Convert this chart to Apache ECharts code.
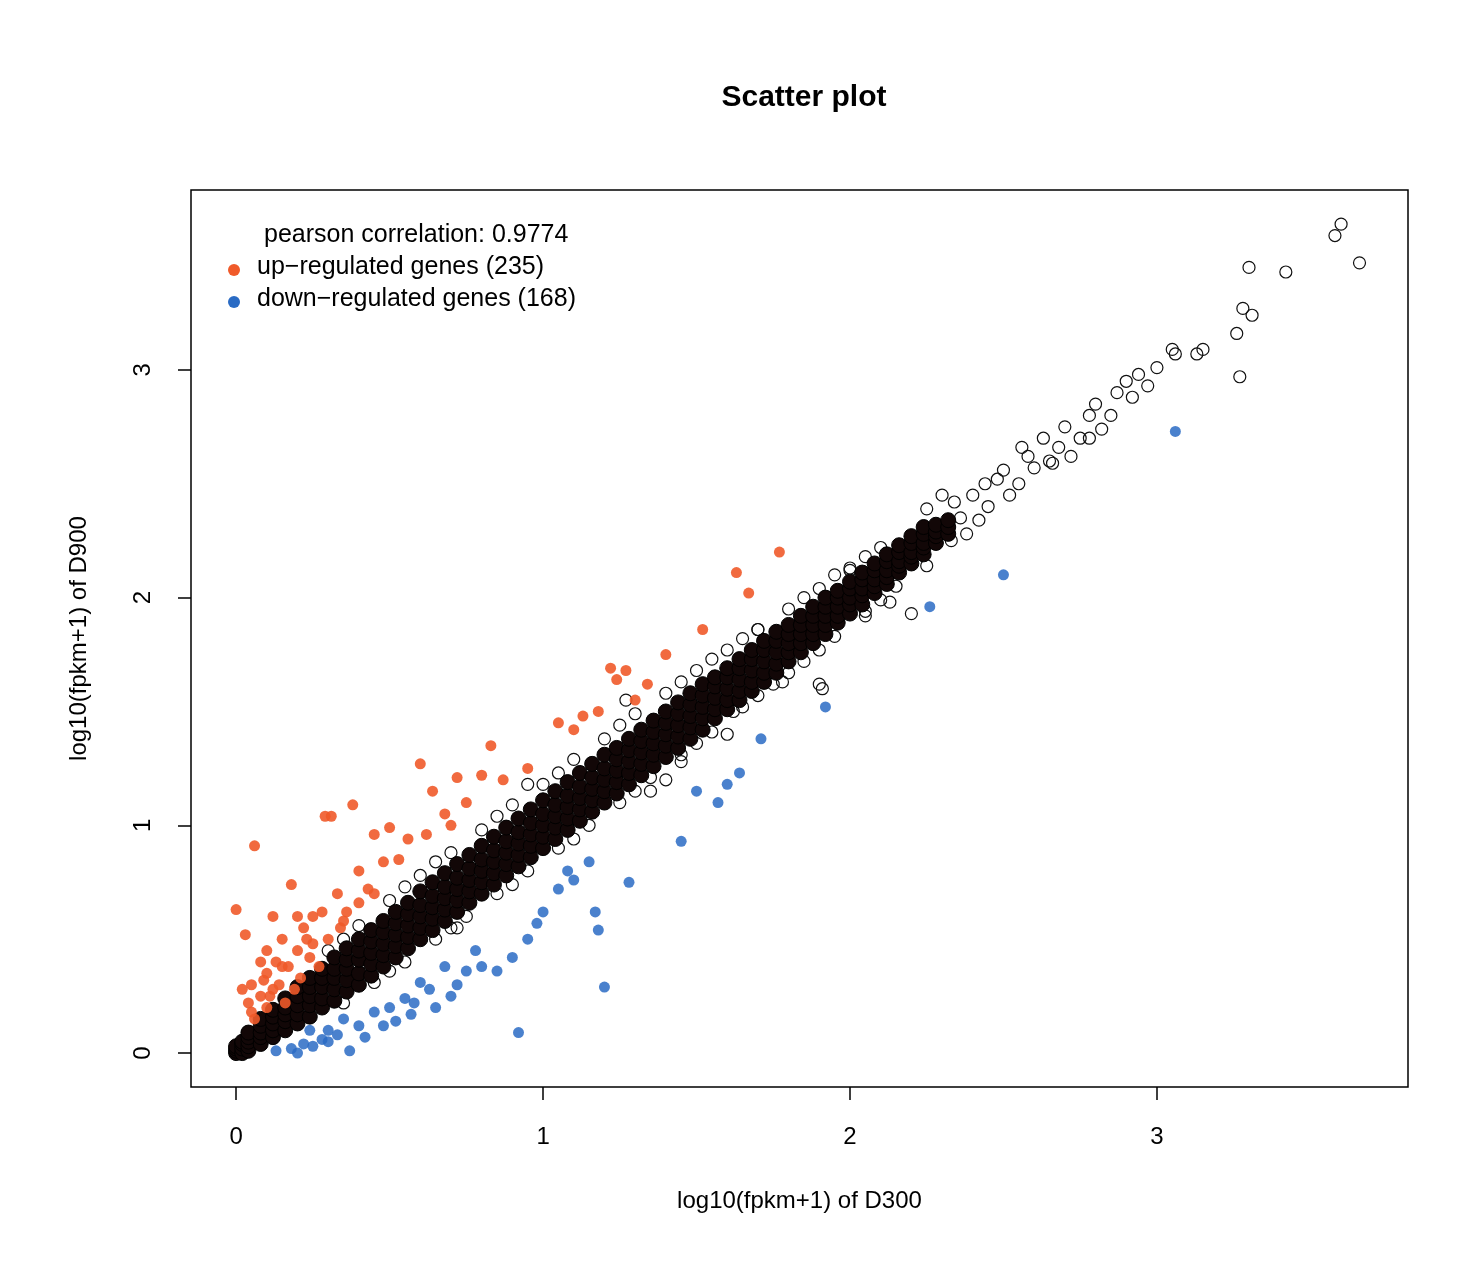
<!DOCTYPE html>
<html>
<head>
<meta charset="utf-8">
<script src="https://cdn.jsdelivr.net/npm/echarts@6/dist/echarts.min.js"></script>
<style>
html,body{margin:0;padding:0;background:#fff;}
#chart{width:1474px;height:1279px;}
</style>
</head>
<body>
<div id="chart"></div>
<script>
var tickValues = [0, 1, 2, 3];

// dense band: each row is [x, list of y values read along the diagonal]
var bandRows = [
    [0.00, [0.00,0.01,0.02,0.03]],
    [0.02, [0.00,0.02,0.04,0.05]],
    [0.04, [0.01,0.03,0.05,0.07,0.09]],
    [0.08, [0.04,0.07,0.09,0.12,0.15]],
    [0.12, [0.07,0.10,0.13,0.16,0.19]],
    [0.16, [0.10,0.14,0.17,0.20,0.24]],
    [0.20, [0.13,0.17,0.21,0.25,0.29]],
    [0.24, [0.16,0.21,0.25,0.29,0.33]],
    [0.28, [0.20,0.24,0.29,0.33,0.37]],
    [0.32, [0.23,0.28,0.33,0.37,0.42]],
    [0.36, [0.27,0.32,0.37,0.41,0.46]],
    [0.40, [0.30,0.35,0.41,0.45,0.50]],
    [0.44, [0.34,0.39,0.44,0.49,0.54]],
    [0.48, [0.38,0.43,0.48,0.53,0.58]],
    [0.52, [0.42,0.47,0.52,0.57,0.62]],
    [0.56, [0.46,0.51,0.56,0.61,0.66]],
    [0.60, [0.50,0.55,0.60,0.65,0.71]],
    [0.64, [0.54,0.59,0.64,0.69,0.75]],
    [0.68, [0.58,0.63,0.68,0.73,0.79]],
    [0.72, [0.62,0.67,0.72,0.77,0.83]],
    [0.76, [0.66,0.71,0.76,0.81,0.87]],
    [0.80, [0.70,0.75,0.80,0.85,0.91]],
    [0.84, [0.74,0.79,0.84,0.89,0.95]],
    [0.88, [0.78,0.83,0.88,0.93,0.99]],
    [0.92, [0.82,0.87,0.92,0.97,1.03]],
    [0.96, [0.86,0.91,0.96,1.01,1.07]],
    [1.00, [0.90,0.95,1.00,1.05,1.11]],
    [1.04, [0.94,0.99,1.04,1.09,1.15]],
    [1.08, [0.98,1.03,1.08,1.13,1.19]],
    [1.12, [1.02,1.07,1.12,1.17,1.23]],
    [1.16, [1.06,1.11,1.16,1.21,1.27]],
    [1.20, [1.10,1.15,1.20,1.25,1.31]],
    [1.24, [1.14,1.19,1.24,1.29,1.34]],
    [1.28, [1.18,1.23,1.28,1.33,1.38]],
    [1.32, [1.22,1.27,1.32,1.37,1.42]],
    [1.36, [1.26,1.31,1.36,1.41,1.46]],
    [1.40, [1.30,1.35,1.40,1.45,1.50]],
    [1.44, [1.34,1.39,1.44,1.49,1.54]],
    [1.48, [1.38,1.43,1.48,1.53,1.58]],
    [1.52, [1.42,1.47,1.52,1.57,1.62]],
    [1.56, [1.47,1.51,1.56,1.61,1.65]],
    [1.60, [1.51,1.55,1.60,1.65,1.69]],
    [1.64, [1.55,1.59,1.64,1.69,1.73]],
    [1.68, [1.59,1.63,1.68,1.73,1.77]],
    [1.72, [1.63,1.67,1.72,1.77,1.81]],
    [1.76, [1.67,1.71,1.76,1.81,1.85]],
    [1.80, [1.72,1.76,1.80,1.84,1.88]],
    [1.84, [1.76,1.80,1.84,1.88,1.92]],
    [1.88, [1.80,1.84,1.88,1.92,1.96]],
    [1.92, [1.84,1.88,1.92,1.96,2.00]],
    [1.96, [1.89,1.92,1.96,2.00,2.03]],
    [2.00, [1.93,1.97,2.00,2.04,2.07]],
    [2.04, [1.97,2.01,2.04,2.08,2.11]],
    [2.08, [2.02,2.05,2.08,2.12,2.15]],
    [2.12, [2.06,2.09,2.12,2.16,2.19]],
    [2.16, [2.11,2.14,2.16,2.20,2.23]],
    [2.20, [2.15,2.18,2.20,2.24,2.27]],
    [2.24, [2.19,2.22,2.24,2.28,2.31]],
    [2.28, [2.24,2.27,2.29,2.32]],
    [2.32, [2.28,2.31,2.34]]
];

// open circles along the edges of the band and beyond it
var sparsePoints = [
    [2.36,2.35],[2.40,2.45],[2.45,2.40],[2.48,2.52],[2.50,2.56],[2.55,2.50],[2.58,2.62],
    [2.60,2.57],[2.63,2.70],[2.65,2.60],[2.68,2.66],[2.70,2.75],[2.72,2.62],[2.75,2.70],
    [2.78,2.80],[2.80,2.85],[2.82,2.74],[2.85,2.80],[2.87,2.90],[2.90,2.95],[2.92,2.88],
    [2.94,2.98],[2.97,2.93],[3.00,3.01],[2.78,2.70],[2.66,2.59],[3.05,3.09],[3.06,3.07],
    [3.13,3.07],[3.15,3.09],[3.26,3.16],[3.27,2.97],[3.28,3.27],[3.31,3.24],[3.30,3.45],
    [3.42,3.43],[3.58,3.59],[3.60,3.64],[3.66,3.47],[2.42,2.34],[2.52,2.45],[2.56,2.66],
    [1.90,1.62],[1.91,1.60],[2.20,1.93],[2.13,1.98],[1.27,1.55],[1.70,1.86],[1.55,1.73],
    [1.35,1.15],[1.45,1.28],[0.95,1.18],[0.72,0.55],[0.55,0.73],[2.05,1.92],[1.78,1.63],
    [2.25,2.39],[2.30,2.45],[2.33,2.25],[2.38,2.28],[1.95,2.10],[2.00,2.12],[1.62,1.50],
    [0.30,0.45],[0.40,0.56],[0.50,0.67],[0.60,0.78],[0.70,0.88],[0.80,0.98],[0.90,1.09],
    [1.00,1.18],[1.10,1.29],[1.20,1.38],[1.30,1.49],[1.40,1.58],[1.50,1.68],[1.60,1.77],
    [1.70,1.86],[1.80,1.95],[1.90,2.04],[2.00,2.13],[2.10,2.22],[0.35,0.50],[0.65,0.84],
    [0.85,1.04],[1.05,1.23],[1.25,1.44],[1.45,1.63],[1.65,1.82],[1.85,2.00],[2.05,2.18],
    [0.35,0.22],[0.45,0.31],[0.55,0.40],[0.65,0.50],[0.75,0.60],[0.85,0.70],[0.95,0.80],
    [1.05,0.90],[1.15,1.00],[1.25,1.10],[1.35,1.21],[1.45,1.31],[1.55,1.41],[1.65,1.52],
    [1.75,1.62],[1.85,1.72],[1.95,1.83],[2.05,1.94],[2.15,2.05],[0.50,0.36],[0.70,0.55],
    [0.90,0.74],[1.10,0.94],[1.30,1.15],[1.50,1.36],[1.70,1.57],[1.90,1.77],[2.10,1.99],
    [1.40,1.20],[1.60,1.40],[1.80,1.67],[2.25,2.14],[2.34,2.42],[2.44,2.50]
];

var upPoints = [
    [0.00,0.63],[0.06,0.91],[0.03,0.52],[0.02,0.28],[0.05,0.18],[0.08,0.40],[0.10,0.35],
    [0.12,0.60],[0.15,0.50],[0.18,0.74],[0.20,0.45],[0.20,0.60],[0.22,0.55],[0.25,0.48],
    [0.28,0.62],[0.29,1.04],[0.31,1.04],[0.33,0.70],[0.36,0.62],[0.38,1.09],[0.40,0.80],
    [0.43,0.72],[0.45,0.96],[0.48,0.84],[0.50,0.99],[0.53,0.85],[0.56,0.94],[0.60,1.27],
    [0.62,0.96],[0.64,1.15],[0.68,1.05],[0.70,1.00],[0.72,1.21],[0.75,1.10],[0.80,1.22],
    [0.83,1.35],[0.87,1.20],[0.95,1.25],[1.05,1.45],[1.10,1.42],[1.13,1.48],[1.18,1.50],
    [1.22,1.69],[1.24,1.64],[1.27,1.68],[1.30,1.55],[1.34,1.62],[1.40,1.75],[1.52,1.86],
    [1.63,2.11],[1.67,2.02],[1.77,2.20],[0.10,0.20],[0.08,0.25],[0.12,0.28],[0.14,0.30],
    [0.16,0.22],[0.06,0.15],[0.04,0.22],[0.10,0.45],[0.17,0.38],[0.24,0.42],[0.30,0.50],
    [0.34,0.55],[0.27,0.38],[0.21,0.33],[0.05,0.30],[0.13,0.40],[0.19,0.28],[0.09,0.32],
    [0.25,0.60],[0.40,0.66],[0.45,0.70],[0.11,0.25],[0.15,0.38],[0.23,0.50],[0.35,0.58]
];

var downPoints = [
    [0.13,0.01],[0.18,0.02],[0.20,0.00],[0.22,0.04],[0.25,0.03],[0.28,0.06],[0.30,0.10],
    [0.33,0.08],[0.37,0.01],[0.40,0.12],[0.42,0.07],[0.45,0.18],[0.48,0.12],[0.50,0.20],
    [0.55,0.24],[0.58,0.22],[0.60,0.31],[0.63,0.28],[0.68,0.38],[0.70,0.25],[0.72,0.30],
    [0.75,0.36],[0.78,0.45],[0.80,0.38],[0.85,0.36],[0.90,0.42],[0.92,0.09],[0.95,0.50],
    [0.98,0.57],[1.00,0.62],[1.05,0.72],[1.08,0.80],[1.10,0.76],[1.15,0.84],[1.17,0.62],
    [1.18,0.54],[1.20,0.29],[1.28,0.75],[1.45,0.93],[1.50,1.15],[1.57,1.10],[1.60,1.18],
    [1.64,1.23],[1.71,1.38],[1.92,1.52],[2.26,1.96],[2.50,2.10],[3.06,2.73],[0.35,0.15],
    [0.52,0.14],[0.65,0.20],[0.24,0.10],[0.30,0.05],[0.57,0.17]
];

var bandPoints = [];
bandRows.forEach(function(row){
    row[1].forEach(function(y){ bandPoints.push([row[0], y]); });
});

var myChart = echarts.init(document.getElementById('chart'));
var font = 'Liberation Sans, Arial, sans-serif';
var option = {
    animation: false,
    title: {
        text: 'Scatter plot',
        left: 799, top: 78, textAlign: 'center',
        textStyle: {fontFamily: font, fontSize: 30, fontWeight: 'bold', color: '#000'}
    },
    grid: {
        left: 191, top: 190, width: 1217, height: 897,
        show: true, borderColor: '#000', borderWidth: 1.5, backgroundColor: 'transparent'
    },
    xAxis: {
        type: 'value', min: -0.147, max: 3.818,
        name: 'log10(fpkm+1) of D300', nameLocation: 'middle', nameGap: 102,
        nameTextStyle: {fontFamily: font, fontSize: 24, color: '#000'},
        splitLine: {show: false},
        axisLine: {show: false, onZero: false},
        axisTick: {show: true, inside: false, length: 13, customValues: tickValues,
            lineStyle: {color: '#000', width: 1.5}},
        axisLabel: {customValues: tickValues, margin: 38, fontFamily: font, fontSize: 24, color: '#000'}
    },
    yAxis: {
        type: 'value', min: -0.149, max: 3.79,
        name: 'log10(fpkm+1) of D900', nameLocation: 'middle', nameGap: 100,
        nameTextStyle: {fontFamily: font, fontSize: 24, color: '#000'},
        splitLine: {show: false},
        axisLine: {show: false, onZero: false},
        axisTick: {show: true, length: 13, customValues: tickValues,
            lineStyle: {color: '#000', width: 1.5}},
        axisLabel: {customValues: tickValues, rotate: 90, margin: 36, fontFamily: font, fontSize: 24, color: '#000'}
    },
    graphic: [
        {type: 'text', left: 264, top: 223, style: {text: 'pearson correlation: 0.9774', font: '25px ' + font, fill: '#000'}},
        {type: 'circle', shape: {cx: 234, cy: 270, r: 6}, style: {fill: '#f05a2a'}},
        {type: 'text', left: 257, top: 255, style: {text: 'up\u2212regulated genes (235)', font: '25px ' + font, fill: '#000'}},
        {type: 'circle', shape: {cx: 234, cy: 302, r: 6}, style: {fill: '#2a6bc4'}},
        {type: 'text', left: 257, top: 287, style: {text: 'down\u2212regulated genes (168)', font: '25px ' + font, fill: '#000'}}
    ],
    series: [
        {
            name: 'edge genes', type: 'scatter', data: sparsePoints,
            symbol: 'circle', symbolSize: 12,
            itemStyle: {color: 'rgba(255,255,255,0)', borderColor: '#111', borderWidth: 1.2, opacity: 1}
        },
        {
            name: 'band genes', type: 'scatter', data: bandPoints,
            symbol: 'circle', symbolSize: 15,
            itemStyle: {color: '#120707', borderColor: '#000', borderWidth: 1, opacity: 1}
        },
        {
            name: 'up', type: 'scatter', data: upPoints, symbolSize: 11,
            itemStyle: {color: '#f05a2a', opacity: 0.9}
        },
        {
            name: 'down', type: 'scatter', data: downPoints, symbolSize: 11,
            itemStyle: {color: '#2a6bc4', opacity: 0.85}
        }
    ]
};
myChart.setOption(option);
</script>
</body>
</html>
